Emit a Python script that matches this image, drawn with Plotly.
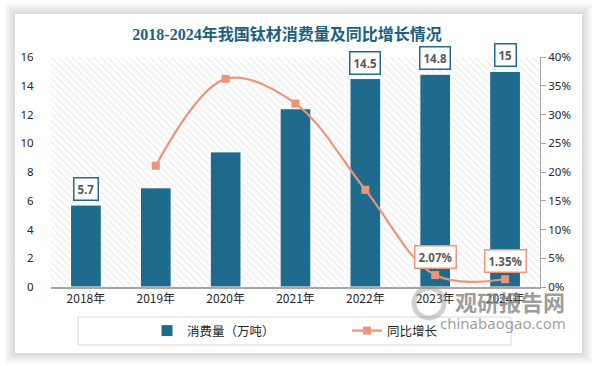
import plotly.graph_objects as go

# ---------------- data ----------------
years = ["2018年", "2019年", "2020年", "2021年", "2022年", "2023年", "2024年"]
consumption = [5.7, 6.9, 9.4, 12.4, 14.5, 14.8, 15.0]          # 万吨
growth_pct = [None, 21.1, 36.2, 31.9, 16.9, 2.07, 1.35]         # %
bar_label_idx = [0, 4, 5, 6]
line_label_idx = [5, 6]

left_ticks = [0, 2, 4, 6, 8, 10, 12, 14, 16]
right_ticks = [0, 5, 10, 15, 20, 25, 30, 35, 40]
right_tick_text = ["0%", "5%", "10%", "15%", "20%", "25%", "30%", "35%", "40%"]

# ---------------- geometry helpers (pixels -> paper) ----------------
W, H = 594, 366
ML, MR, MT, MB = 51, 54, 57, 79
PW, PH = W - ML - MR, H - MT - MB


def px(x):
    return (x - ML) / PW


def py(y):
    return (H - MB - y) / PH


BAR_COLOR = "#1f6b8e"
LINE_COLOR = "#e9967a"
TEXT_COLOR = "#595959"

fig = go.Figure()

# hatched plot background (main, invisible axes)
fig.add_trace(go.Bar(
    x=[0.5], y=[1], width=[1], xaxis="x", yaxis="y",
    marker=dict(color="white", line=dict(width=0),
                pattern=dict(shape="\\", fgcolor="#cfcfcf", bgcolor="white",
                             size=5, solidity=0.2)),
    showlegend=False, hoverinfo="skip",
))

# bars
fig.add_trace(go.Bar(
    x=years, y=consumption, name="消费量（万吨）",
    xaxis="x2", yaxis="y2", width=0.44,
    marker=dict(color=BAR_COLOR, line=dict(color="white", width=1)),
))

# growth line
fig.add_trace(go.Scatter(
    x=years[1:], y=growth_pct[1:], name="同比增长",
    xaxis="x2", yaxis="y3", mode="lines+markers",
    line=dict(color=LINE_COLOR, width=2.2, shape="spline", smoothing=1.0),
    marker=dict(symbol="square", size=8, color=LINE_COLOR),
))

annotations = []
for i in bar_label_idx:
    v = consumption[i]
    annotations.append(dict(
        x=years[i], y=v, xref="x2", yref="y2", yanchor="bottom", yshift=4,
        text="<b>%g</b>" % v, showarrow=False,
        font=dict(size=11.5, color=TEXT_COLOR, family="Noto Sans"),
        bgcolor="white", bordercolor=BAR_COLOR, borderwidth=1.5, borderpad=3,
    ))
for i in line_label_idx:
    v = growth_pct[i]
    annotations.append(dict(
        x=years[i], y=v, xref="x2", yref="y3", yanchor="bottom", yshift=6,
        text="<b>%.2f%%</b>" % v, showarrow=False,
        font=dict(size=11.5, color=TEXT_COLOR, family="Noto Sans"),
        bgcolor="white", bordercolor=LINE_COLOR, borderwidth=1.5, borderpad=3,
    ))

# watermark
annotations.append(dict(
    x=px(510), y=py(301), xref="paper", yref="paper", xanchor="center", yanchor="middle",
    text="<b>观研报告网</b>", showarrow=False,
    font=dict(size=22, color="rgba(125,125,125,0.75)", family="Noto Sans CJK SC"),
))
annotations.append(dict(
    x=px(503), y=py(323), xref="paper", yref="paper", xanchor="center", yanchor="middle",
    text="chinabaogao.com", showarrow=False,
    font=dict(size=15, color="rgba(125,125,125,0.75)", family="Noto Sans"),
))

shapes = []
# card shadow
for k in range(5, 0, -1):
    d = 2 * k
    shapes.append(dict(type="rect", xref="paper", yref="paper", layer="below",
                       x0=px(15 - d), x1=px(582 + d), y0=py(353 + d), y1=py(14 - d),
                       line=dict(width=0), fillcolor="rgba(0,0,0,0.028)"))
# card
shapes.append(dict(type="rect", xref="paper", yref="paper", layer="below",
                   x0=px(15), x1=px(582), y0=py(353), y1=py(14),
                   line=dict(width=0), fillcolor="white"))
# legend frame
shapes.append(dict(type="rect", xref="paper", yref="paper", layer="below",
                   x0=px(78), x1=px(511), y0=py(345), y1=py(317),
                   line=dict(width=1, color="#d9d9d9"), fillcolor="white"))
# watermark logo
shapes.append(dict(type="circle", xref="paper", yref="paper", layer="above",
                   x0=px(414), x1=px(444), y0=py(318), y1=py(288),
                   line=dict(width=5, color="rgba(150,150,150,0.45)")))

fig.update_layout(
    width=W, height=H,
    margin=dict(l=ML, r=MR, t=MT, b=MB, autoexpand=False),
    paper_bgcolor="white", plot_bgcolor="rgba(0,0,0,0)",
    title=dict(text="<b>2018-2024年我国钛材消费量及同比增长情况</b>",
               x=287 / W, xref="container", xanchor="center",
               y=1 - 34 / H, yref="container", yanchor="middle",
               font=dict(size=16, color="#1d5f80",
                         family="Liberation Serif, Noto Sans CJK SC")),
    xaxis=dict(range=[0, 1], visible=False, fixedrange=True),
    yaxis=dict(range=[0, 1], visible=False, fixedrange=True),
    xaxis2=dict(type="category", overlaying="x", anchor="y2", range=[-0.5, 6.5],
                showline=True, linecolor="#a6a6a6", linewidth=1.5, ticks="",
                showgrid=False, automargin=False,
                tickfont=dict(size=12, color="#262626", family="Noto Sans CJK SC")),
    yaxis2=dict(overlaying="y", side="left", range=[0, 16], tickvals=left_ticks,
                showgrid=False, zeroline=False, showline=False, automargin=False,
                ticks="outside", ticklen=14, tickcolor="rgba(0,0,0,0)",
                tickfont=dict(size=11.5, color="#262626", family="Noto Sans")),
    yaxis3=dict(overlaying="y", side="right", anchor="x2", range=[0, 40],
                tickvals=right_ticks, ticktext=right_tick_text,
                showgrid=False, zeroline=False, automargin=False,
                showline=True, linecolor="#a6a6a6", linewidth=1,
                ticks="outside", ticklen=5, tickcolor="#a6a6a6",
                tickfont=dict(size=11.5, color="#262626", family="Noto Sans")),
    showlegend=True,
    legend=dict(orientation="h", x=px(147), xanchor="left", y=py(331), yanchor="middle",
                entrywidth=155, bgcolor="rgba(0,0,0,0)", borderwidth=0,
                font=dict(size=12.5, color="#262626", family="Noto Sans CJK SC")),
    barmode="overlay",
    annotations=annotations,
    shapes=shapes,
)

fig.write_html("out.html", config={"displayModeBar": False},
               post_script="document.body.style.margin='0';")
